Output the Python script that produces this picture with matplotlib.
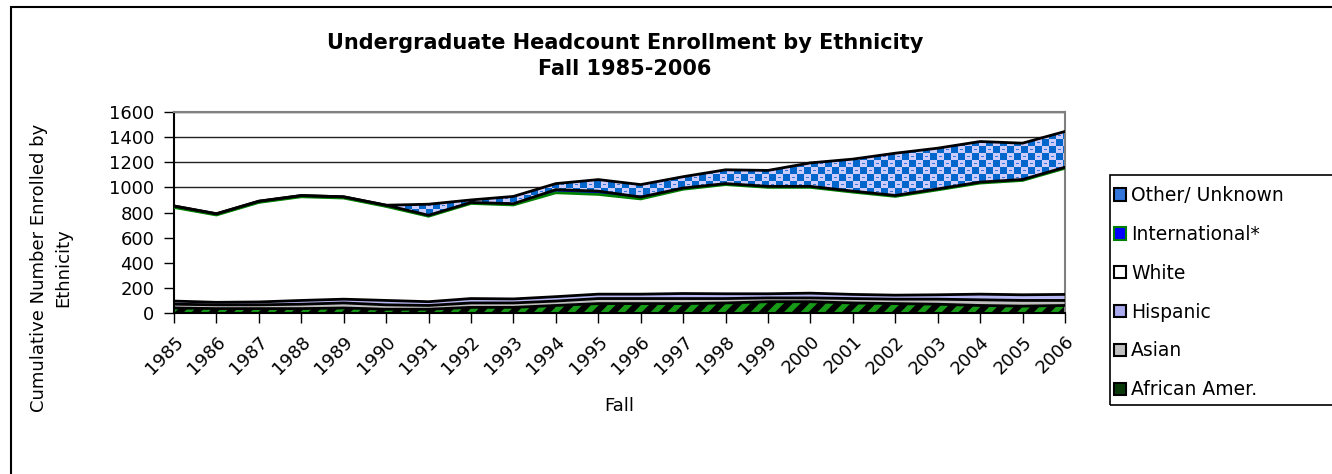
import numpy as np
import matplotlib
matplotlib.use('Agg')
import matplotlib.pyplot as plt
from matplotlib.patches import Rectangle, Patch

# ---------------- data ----------------
years = list(range(1985, 2007))
african = [40, 35, 35, 35, 40, 30, 30, 45, 45, 60, 75, 75, 75, 80, 90, 90, 80, 75, 70, 60, 55, 60]
asian = [30, 30, 30, 35, 40, 35, 30, 35, 35, 35, 40, 40, 40, 35, 30, 30, 35, 35, 40, 45, 45, 40]
hispanic = [25, 20, 23, 30, 30, 35, 30, 35, 32, 35, 35, 35, 40, 38, 33, 38, 33, 32, 35, 45, 45, 48]
white = [745, 695, 792, 825, 805, 748, 680, 757, 748, 827, 794, 758, 830, 869, 847, 842, 814, 786, 835, 884, 910, 1004]
international = [12, 10, 10, 10, 10, 10, 8, 8, 10, 25, 26, 15, 10, 8, 8, 8, 8, 8, 8, 8, 8, 8]
other = [0, 0, 0, 0, 0, 0, 88, 20, 58, 48, 92, 99, 90, 110, 127, 187, 255, 336, 324, 323, 289, 285]

series_names = ["African Amer.", "Asian", "Hispanic", "White", "International*", "Other/ Unknown"]
yticks = [0, 200, 400, 600, 800, 1000, 1200, 1400, 1600]

title = "Undergraduate Headcount Enrollment by Ethnicity\nFall 1985-2006"
ylabel = "Cumulative Number Enrolled by\nEthnicity"
xlabel = "Fall"

# ---------------- style ----------------
plt.rcParams['font.family'] = ['DejaVu Sans']
plt.rcParams['hatch.linewidth'] = 4.0

W, H = 1332, 474
fig = plt.figure(figsize=(W / 100, H / 100), dpi=100)
ax_l, ax_r, ax_t, ax_b = 174, 1065, 112, 313
ax = fig.add_axes([ax_l / W, 1 - ax_b / H, (ax_r - ax_l) / W, (ax_b - ax_t) / H])

x = np.array(years, dtype=float)
layers = np.vstack([african, asian, hispanic, white, international, other]).astype(float)
cum = np.cumsum(layers, axis=0)
base = np.vstack([np.zeros(len(x)), cum[:-1]])

ax.set_xlim(years[0], years[-1])
ax.set_ylim(0, 1600)

# gridlines
ax.set_axisbelow(True)
ax.yaxis.grid(True, color='#222222', lw=1.0)

# African Amer.: black with green slanted dashes
ax.fill_between(x, base[0], cum[0], facecolor='black', edgecolor='#179a17',
                hatch='//', lw=0, zorder=2)
# Asian
ax.fill_between(x, base[1], cum[1], facecolor='#c0c0c0', lw=0, zorder=2)
# Hispanic
ax.fill_between(x, base[2], cum[2], facecolor='#b8b8f4', lw=0, zorder=2)
# White
ax.fill_between(x, base[3], cum[3], facecolor='white', lw=0, zorder=2)
# International
ax.fill_between(x, base[4], cum[4], facecolor='#0000ff', lw=0, zorder=2)
# Other / Unknown with checkered texture
poly = ax.fill_between(x, base[5], cum[5], facecolor='none', lw=0, zorder=2)
pw, ph = ax_r - ax_l, ax_b - ax_t
jj, ii = np.meshgrid(np.arange(pw), np.arange(ph))
cell = 7
chk = ((ii // cell) + (jj // cell)) % 2 == 0
tex = np.empty((ph, pw, 3))
tex[:] = np.array([0xcc, 0xcc, 0xff]) / 255.0
tex[chk] = np.array([0x00, 0x66, 0xcc]) / 255.0
dash = (~chk) & ((ii % cell) == 3) & ((jj % cell) >= 2) & ((jj % cell) <= 4)
tex[dash] = np.array([0x33, 0x77, 0xdd]) / 255.0
im = ax.imshow(tex, extent=[years[0], years[-1], 0, 1600], aspect='auto',
               interpolation='nearest', origin='upper', zorder=2)
im.set_clip_path(poly.get_paths()[0], transform=ax.transData)

# boundary lines
lw = 2.0
ax.plot(x, cum[0], color='black', lw=lw, zorder=3)
ax.plot(x, cum[1], color='black', lw=lw, zorder=3)
ax.plot(x, cum[2], color='black', lw=lw, zorder=3)
ax.plot(x, cum[3], color='#008000', lw=lw, zorder=3)
ax.plot(x, cum[4], color='black', lw=lw, zorder=3)
ax.plot(x, cum[5], color='black', lw=lw, zorder=3)

ax.set_xlim(years[0], years[-1])
ax.set_ylim(0, 1600)

# spines
for s in ['top', 'right']:
    ax.spines[s].set_color('#808080')
    ax.spines[s].set_linewidth(1.5)
for s in ['left', 'bottom']:
    ax.spines[s].set_color('black')
    ax.spines[s].set_linewidth(1.5)

ax.set_yticks(yticks)
ax.set_yticklabels([str(v) for v in yticks])
ax.set_xticks(years)
ax.set_xticklabels([str(y) for y in years], rotation=45, ha='right', va='top',
                   rotation_mode='anchor')
ax.tick_params(axis='both', direction='out', length=7, width=1, color='black')
ax.tick_params(axis='x', pad=7, labelsize=13)
ax.tick_params(axis='y', pad=7, labelsize=13)

# texts
fig.text(625 / W, 1 - 56 / H, title, ha='center', va='center',
         fontsize=15, fontweight='bold', linespacing=1.35)
fig.text(51 / W, 1 - 268 / H, ylabel, rotation=90, ha='center', va='center',
         multialignment='center', fontsize=13, linespacing=1.45)
fig.text(((ax_l + ax_r) / 2) / W, 1 - 406 / H, xlabel, ha='center', va='center',
         fontsize=13)

# figure border
fig.patches.append(Rectangle((11 / W, -0.1), 1.2, 1.1 - 7 / H, transform=fig.transFigure,
                             fill=False, edgecolor='black', lw=1.5))

# legend
handles = [
    Patch(facecolor='#3377dd', edgecolor='black', lw=1.5),
    Patch(facecolor='#0000ff', edgecolor='#008000', lw=1.5),
    Patch(facecolor='white', edgecolor='black', lw=1.5),
    Patch(facecolor='#aaaaee', edgecolor='black', lw=1.5),
    Patch(facecolor='#c0c0c0', edgecolor='black', lw=1.5),
    Patch(facecolor='#0a3a0a', edgecolor='black', lw=1.5),
]
labels = series_names[::-1]
leg = fig.legend(handles, labels, loc='upper left', bbox_to_anchor=(1114 / W, 1 - 186 / H),
                 frameon=False, fontsize=13.5, labelspacing=1.06, handlelength=0.65,
                 handleheight=0.65, handletextpad=0.25, borderpad=0, borderaxespad=0)
fig.patches.append(Rectangle((1110 / W, 1 - 405 / H), 0.3, (405 - 175) / H,
                             transform=fig.transFigure, fill=False, edgecolor='black', lw=1.2))

fig.savefig('out.png', dpi=100)
